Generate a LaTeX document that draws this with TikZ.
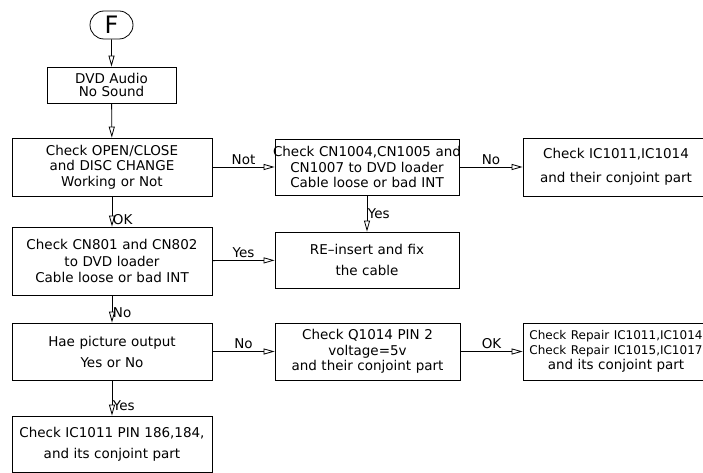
\documentclass[tikz,border=0pt]{standalone}
\usepackage{fontspec}
\setmainfont{DejaVu Sans}
\usetikzlibrary{arrows.meta,shapes.misc}

\begin{document}
\begin{tikzpicture}[x=1pt,y=-1pt,
  box/.style={draw, line width=0.8pt, align=center, inner sep=0pt,
    font=\fontsize{13.5}{15.5}\selectfont},
  flow/.style={line width=0.8pt, -{Triangle[open,length=11pt,width=6pt]}},
  lbl/.style={font=\fontsize{13.5}{15.5}\selectfont, inner sep=2pt}]
  \clip (0,0) rectangle (703,473);
  % Start terminal
  \node[draw, line width=0.8pt, rounded rectangle, minimum width=43, minimum height=28,
    inner sep=0pt, font=\fontsize{24}{24}\selectfont] (start) at (111.5,25) {F};
  % Left column
  \node[box, text width=129, minimum height=36] (audio) at (111.5,85)
    {DVD Audio\\[-2pt]No Sound};
  \node[box, text width=200, minimum height=58] (open) at (112,167)
    {Check OPEN/CLOSE\\and DISC CHANGE\\Working or Not};
  \node[box, text width=200, minimum height=68] (cn801) at (112,261)
    {Check CN801 and CN802\\[1pt]to DVD loader\\[1pt]Cable loose or bad INT};
  \node[box, text width=200, minimum height=57] (picture) at (112,351.5)
    {Hae picture output\\[5.5pt]Yes or No};
  \node[box, text width=200, minimum height=56] (pin) at (112,444)
    {Check IC1011 PIN 186,184,\\[5.5pt]and its conjoint part};
  % Middle column
  \node[box, text width=184, minimum height=56] (cn1004) at (367,167)
    {\makebox[0pt]{Check CN1004,CN1005 and}\\CN1007 to DVD loader\\Cable loose or bad INT};
  \node[box, text width=184, minimum height=56] (reinsert) at (367,260)
    {RE--insert and fix\\[5.5pt]the cable};
  \node[box, text width=185, minimum height=57] (q1014) at (367.5,351.5)
    {Check Q1014 PIN 2\\voltage=5v\\and their conjoint part};
  % Right column
  \node[box, text width=186, minimum height=58] (ic1014) at (616,167)
    {Check IC1011,IC1014\\[8.5pt]and their conjoint part};
  \node[box, text width=186, minimum height=57] (repair) at (616,351.5)
    {{\fontsize{12}{14}\selectfont\makebox[0pt]{Check Repair IC1011,IC1014}\\[-0.5pt]%
     \makebox[0pt]{Check Repair IC1015,IC1017}}\\[-1pt]and its conjoint part};
  % Vertical flow
  \draw[flow] (start) -- (audio);
  \draw[flow] (audio) -- (open);
  \draw[flow] (open) -- node[lbl, pos=0.77, right, inner sep=0.5pt] {OK} (cn801);
  \draw[flow] (cn801) -- node[lbl, pos=0.64, right, inner sep=0.5pt] {No} (picture);
  \draw[flow] (picture) -- node[lbl, pos=0.72, right, inner sep=0.5pt] {Yes} (pin);
  \draw[flow] (cn1004) -- node[lbl, pos=0.5, right, inner sep=0.5pt] {Yes} (reinsert);
  % Horizontal flow
  \draw[flow] (open) -- node[lbl, above] {Not} (cn1004);
  \draw[flow] (cn1004) -- node[lbl, above] {No} (ic1014);
  \draw[flow] (cn801) -- node[lbl, above] {Yes} (reinsert);
  \draw[flow] (picture) -- node[lbl, above] {No} (q1014);
  \draw[flow] (q1014) -- node[lbl, above] {OK} (repair);
\end{tikzpicture}
\end{document}
